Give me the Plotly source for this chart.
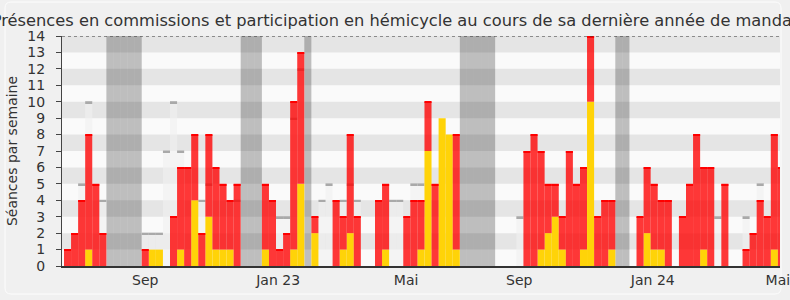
import plotly.graph_objects as go

# ---- data (one value per week, index 0 = first week shown) ----
weeks = list(range(102))

# yellow: présences en commission
commission = [0, 0, 0, 1, 0, 0, 0, 0, 0, 0,
              0, 0, 1, 1, 0, 0, 1, 0, 4, 0,
              3, 1, 1, 1, 0, 0, 0, 0, 1, 0,
              0, 0, 1, 5, 0, 2, 0, 0, 0, 1,
              2, 0, 0, 0, 0, 1, 0, 0, 0, 0,
              1, 7, 0, 9, 8, 1, 0, 0, 0, 0,
              0, 0, 0, 0, 0, 0, 0, 1, 2, 3,
              1, 0, 0, 1, 10, 0, 0, 1, 0, 0,
              0, 0, 2, 1, 1, 0, 0, 0, 0, 0,
              1, 0, 0, 0, 0, 0, 0, 0, 0, 0,
              1, 0]

# red: participation en hémicycle (stacked on top of commission)
hemicycle = [1, 2, 4, 7, 5, 2, 0, 0, 0, 0,
             0, 1, 0, 0, 0, 3, 5, 6, 4, 2,
             5, 5, 4, 3, 5, 0, 0, 0, 4, 4,
             1, 2, 9, 8, 0, 1, 0, 0, 4, 2,
             6, 3, 0, 0, 4, 4, 0, 0, 3, 4,
             3, 3, 5, 0, 0, 7, 0, 0, 0, 0,
             0, 0, 0, 0, 0, 7, 8, 6, 3, 2,
             2, 7, 5, 5, 4, 3, 4, 3, 0, 0,
             0, 3, 4, 4, 3, 4, 0, 3, 5, 8,
             5, 6, 0, 5, 0, 0, 1, 2, 4, 3,
             7, 6]

# light grey: médiane des présences (None = not visible)
N = None
median = [N, N, 5, 10, N, 4, N, N, N, N,
          N, 2, 2, 2, 7, 10, 7, N, N, 4,
          5, N, N, N, 4, N, N, N, N, N,
          3, 3, 9, 12, N, N, 4, 5, N, 4,
          5, 4, N, N, N, N, 4, 4, N, 5,
          5, N, N, N, N, N, N, N, N, N,
          N, N, N, N, 3, N, N, N, N, N,
          N, N, N, N, N, N, N, N, N, N,
          N, N, N, N, N, N, N, N, N, N,
          N, N, 3, N, N, N, 3, N, 5, N,
          N, N]

vacances = [6, 7, 8, 9, 10, 25, 26, 27, 34, 56, 57, 58, 59, 60, 78, 79]

tick_pos = [11, 29.8, 47.9, 63.9, 82.8, 100.5]
tick_labels = ["Sep", "Jan 23", "Mai", "Sep", "Jan 24", "Mai"]

Y_MAX = 14
X_RANGE = [-0.78, 100.8]

FONT = "DejaVu Sans"

fig = go.Figure()

# vacation periods
fig.add_trace(go.Bar(x=vacances, y=[Y_MAX] * len(vacances), width=1,
                     marker=dict(color="rgba(0,0,0,0.24)", line=dict(width=0)),
                     hoverinfo="skip"))

# median bars
mx = [w for w, m in zip(weeks, median) if m is not None]
my = [m for m in median if m is not None]
fig.add_trace(go.Bar(x=mx, y=my, width=1,
                     marker=dict(color="rgba(240,240,240,0.6)", line=dict(width=0)),
                     hoverinfo="skip"))
fig.add_trace(go.Bar(x=mx, y=[0.11] * len(my), base=[m - 0.08 for m in my], width=1,
                     marker=dict(color="#a9a9a9", line=dict(width=0)),
                     hoverinfo="skip"))

# commission (yellow)
fig.add_trace(go.Bar(x=weeks, y=commission, width=1,
                     marker=dict(color="#ffd308", line=dict(width=0))))

# hemicycle (red), stacked on commission
fig.add_trace(go.Bar(x=weeks, y=hemicycle, base=commission, width=1,
                     marker=dict(color="rgba(255,0,0,0.78)", line=dict(width=0))))

# red top edge
rx = [w for w, h in zip(weeks, hemicycle) if h > 0]
rtop = [c + h for c, h in zip(commission, hemicycle) if h > 0]
fig.add_trace(go.Bar(x=rx, y=[0.07] * len(rx), base=[t - 0.07 for t in rtop], width=1,
                     marker=dict(color="#ff0000", line=dict(width=0)),
                     hoverinfo="skip"))

shapes = []
# horizontal alternating bands
for k in range(1, Y_MAX, 2):
    shapes.append(dict(type="rect", xref="paper", yref="y", x0=0, x1=1, y0=k, y1=k + 1,
                       fillcolor="#e5e5e5", line=dict(width=0), layer="below"))
# dotted top line
shapes.append(dict(type="line", xref="paper", yref="y", x0=0, x1=1, y0=Y_MAX, y1=Y_MAX,
                   line=dict(color="#333333", width=1, dash="dot"), layer="above"))
# rounded frame (paper coords)
pw, ph = 718.0, 230.0
fx0, fx1 = (5 - 62) / pw, (781 - 62) / pw
fy0, fy1 = (266 - 294) / ph, (266 - 2) / ph
rx_, ry_ = 6 / pw, 6 / ph
path = (f"M {fx0 + rx_} {fy1} L {fx1 - rx_} {fy1} Q {fx1} {fy1} {fx1} {fy1 - ry_} "
        f"L {fx1} {fy0 + ry_} Q {fx1} {fy0} {fx1 - rx_} {fy0} "
        f"L {fx0 + rx_} {fy0} Q {fx0} {fy0} {fx0} {fy0 + ry_} "
        f"L {fx0} {fy1 - ry_} Q {fx0} {fy1} {fx0 + rx_} {fy1} Z")
shapes.append(dict(type="path", xref="paper", yref="paper", path=path,
                   line=dict(color="#fdfdfd", width=1), layer="below"))

fig.update_layout(
    width=790, height=300,
    margin=dict(l=62, r=10, t=36, b=34, autoexpand=False),
    paper_bgcolor="#f0f0f0",
    plot_bgcolor="#fafafa",
    barmode="overlay",
    showlegend=False,
    shapes=shapes,
    font=dict(family=FONT, color="#333333"),
    title=dict(text="Présences en commissions et participation en hémicycle au cours de sa dernière année de mandat",
               x=0.5, xref="container", xanchor="center",
               y=1 - 20 / 300, yref="container", yanchor="middle",
               font=dict(family=FONT, size=16.25, color="#333333")),
    xaxis=dict(range=X_RANGE, tickmode="array", tickvals=tick_pos, ticktext=tick_labels,
               ticks="", showgrid=False, zeroline=False, ticklabeloverflow="allow",
               automargin=False,
               showline=True, linecolor="#333333", linewidth=1.5,
               tickfont=dict(family=FONT, size=14, color="#333333"), fixedrange=True),
    yaxis=dict(range=[0, Y_MAX], tickmode="linear", tick0=0, dtick=1,
               ticks="outside", ticklen=5, tickcolor="#444444", tickwidth=1,
               showgrid=False, zeroline=False, automargin=False,
               showline=True, linecolor="#444444", linewidth=1,
               tickfont=dict(family=FONT, size=14, color="#333333"),
               ticklabelstandoff=8,
               title=dict(text="Séances par semaine", standoff=6,
                          font=dict(family=FONT, size=14, color="#333333")),
               fixedrange=True),
)

fig.write_html("out.html")
